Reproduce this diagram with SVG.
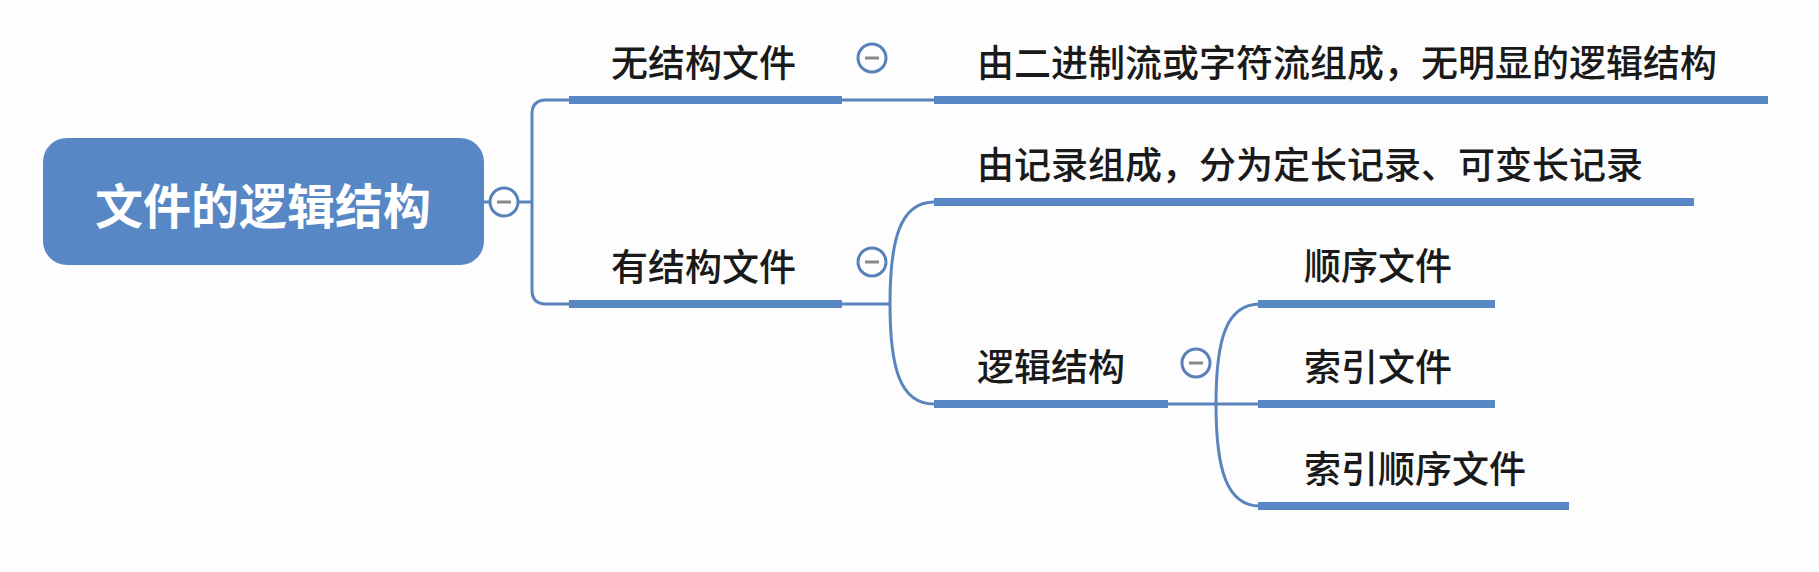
<svg xmlns="http://www.w3.org/2000/svg" width="1819" height="572" viewBox="0 0 1819 572">
<style>
.bg{fill:#fdfdfd}
.root{fill:#5787c4}
.rt{font-family:"Noto Sans CJK SC","Noto Sans",sans-serif;font-size:48px;font-weight:bold;fill:#ffffff}
.t{font-family:"Noto Sans CJK SC","Noto Sans",sans-serif;font-size:37px;font-weight:500;fill:#1a1a1a}
.bar{stroke:#5787c4;stroke-width:8;fill:none}
.ln{stroke:#5a84bd;stroke-width:3;fill:none}
.cb circle{fill:#ffffff;stroke:#5a80b8;stroke-width:3}
.cb line{stroke:#888888;stroke-width:3}
</style>
<rect class="bg" x="0" y="0" width="1819" height="572"/>
<g id="connectors">
  <line class="ln" x1="484" y1="202" x2="532" y2="202"/>
  <path class="ln" d="M569 100 H546 Q532 100 532 114 V290 Q532 304 546 304 H569"/>
  <line class="ln" x1="842" y1="100" x2="934" y2="100"/>
  <line class="ln" x1="842" y1="304" x2="890" y2="304"/>
  <path class="ln" d="M890 304 C890 240 900 202 934 202"/>
  <path class="ln" d="M890 304 C890 368 900 404 934 404"/>
  <line class="ln" x1="1168" y1="404" x2="1258" y2="404"/>
  <path class="ln" d="M1216 404 C1216 340 1226 304 1260 304"/>
  <path class="ln" d="M1216 404 C1216 468 1226 506 1260 506"/>
</g>
<g id="root">
  <rect class="root" x="43" y="138" width="441" height="127" rx="24"/>
  <text class="rt" x="263" y="224" text-anchor="middle">文件的逻辑结构</text>
  <g class="cb"><circle cx="504" cy="202" r="14"/><line x1="497" y1="202" x2="511" y2="202"/></g>
</g>
<g id="n-wujiegou">
  <text class="t" x="611" y="77">无结构文件</text>
  <line class="bar" x1="569" y1="100" x2="842" y2="100"/>
  <g class="cb"><circle cx="872" cy="58" r="14"/><line x1="865" y1="58" x2="879" y2="58"/></g>
</g>
<g id="n-wujiegou-desc">
  <text class="t" x="977" y="77">由二进制流或字符流组成，无明显的逻辑结构</text>
  <line class="bar" x1="934" y1="100" x2="1768" y2="100"/>
</g>
<g id="n-youjiegou">
  <text class="t" x="611" y="281">有结构文件</text>
  <line class="bar" x1="569" y1="304" x2="842" y2="304"/>
  <g class="cb"><circle cx="872" cy="262" r="14"/><line x1="865" y1="262" x2="879" y2="262"/></g>
</g>
<g id="n-jilu">
  <text class="t" x="977" y="179">由记录组成，分为定长记录、可变长记录</text>
  <line class="bar" x1="934" y1="202" x2="1694" y2="202"/>
</g>
<g id="n-luoji">
  <text class="t" x="977" y="381">逻辑结构</text>
  <line class="bar" x1="934" y1="404" x2="1168" y2="404"/>
  <g class="cb"><circle cx="1196" cy="363" r="14"/><line x1="1189" y1="363" x2="1203" y2="363"/></g>
</g>
<g id="n-shunxu">
  <text class="t" x="1304" y="280">顺序文件</text>
  <line class="bar" x1="1258" y1="304" x2="1495" y2="304"/>
</g>
<g id="n-suoyin">
  <text class="t" x="1304" y="381">索引文件</text>
  <line class="bar" x1="1258" y1="404" x2="1495" y2="404"/>
</g>
<g id="n-suoyinshunxu">
  <text class="t" x="1304" y="483">索引顺序文件</text>
  <line class="bar" x1="1258" y1="506" x2="1569" y2="506"/>
</g>
</svg>
